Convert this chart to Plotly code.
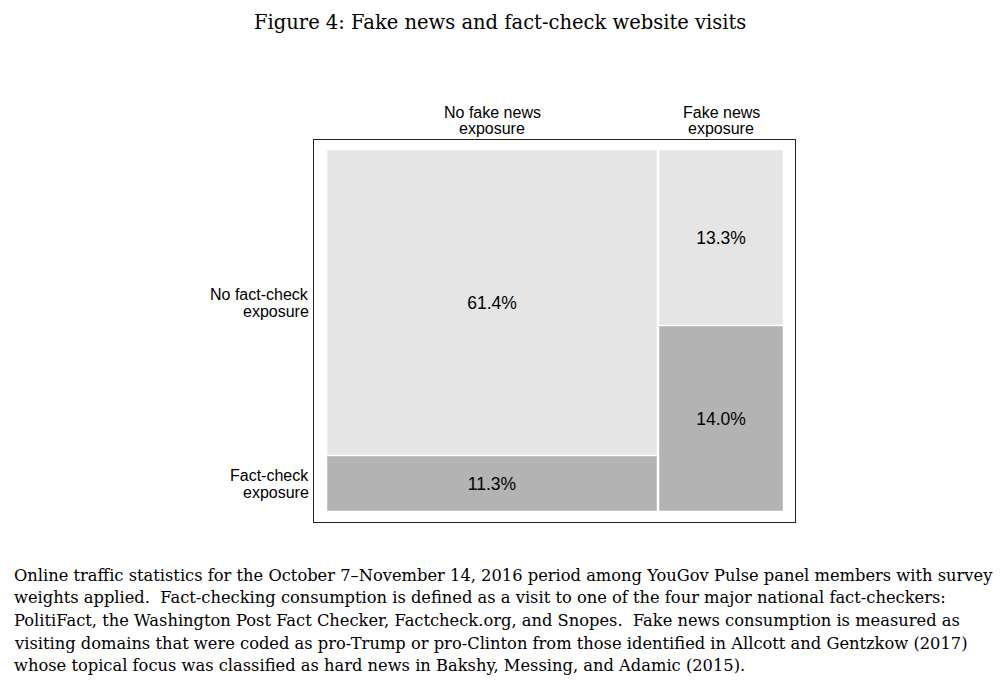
import plotly.graph_objects as go

# ---- data ----
col_labels = ["No fake news<br>exposure", "Fake news<br>exposure"]
row_labels = ["No fact-check<br>exposure", "Fact-check<br>exposure"]
# shares (%) per column: [no fact-check, fact-check]
no_fake = [61.4, 11.3]
fake = [13.3, 14.0]

title_text = "Figure 4: Fake news and fact-check website visits"
caption_lines = [
    "Online traffic statistics for the October 7–November 14, 2016 period among YouGov Pulse panel members with survey",
    "weights applied.  Fact-checking consumption is defined as a visit to one of the four major national fact-checkers:",
    "PolitiFact, the Washington Post Fact Checker, Factcheck.org, and Snopes.  Fake news consumption is measured as",
    "visiting domains that were coded as pro-Trump or pro-Clinton from those identified in Allcott and Gentzkow (2017)",
    "whose topical focus was classified as hard news in Bakshy, Messing, and Adamic (2015).",
]

# ---- styling / layout (page pixels) ----
W, H = 1006, 687
OFF = 8                       # body margin of the html page
PL, PR, PT, PB = 314, 795, 140, 522   # plot box in page pixels
TL, TR, TT, TB = 326, 784, 150, 512   # tile extent in page pixels
LIGHT, DARK = "#e5e5e5", "#b3b3b3"
GAPX = 3 / (TR - TL)
GAPY = 2 / (TB - TT)
SANS = "Liberation Sans"
SERIF = "DejaVu Serif"

def paper_x(px):
    return (px - PL) / (PR - PL)

def paper_y(py):
    return (PB - py) / (PB - PT)

cols = [no_fake, fake]
total = sum(sum(c) for c in cols)
fig = go.Figure()
x0 = 0.0
centers = []
left_rows = []
for ci, c in enumerate(cols):
    cw = sum(c) / total
    cx = x0 + cw / 2
    centers.append(cx)
    p_nofc = c[0] / sum(c)
    p_fc = c[1] / sum(c)
    for val, base, h, colr, edge in [
        (c[1], 0.0, p_fc, DARK, "#c4c4c4"),
        (c[0], p_fc, p_nofc, LIGHT, "#ececec"),
    ]:
        fig.add_trace(go.Bar(
            x=[cx], y=[h - GAPY], base=[base + GAPY / 2], width=[cw - GAPX],
            marker=dict(color=colr, line=dict(color=edge, width=1)),
            text=[f"{val:.1f}%"], textposition="inside", insidetextanchor="middle",
            textangle=0, textfont=dict(family=SANS, size=17.5, color="black"),
            hoverinfo="skip", showlegend=False))
    if ci == 0:
        left_rows = [p_fc + p_nofc / 2, p_fc / 2]
    x0 += cw

xr = [-(TL - PL) / (TR - TL), 1 + (PR - TR) / (TR - TL)]
yr = [-(PB - TB) / (TB - TT), 1 + (TT - PT) / (TB - TT)]

anns = []
# column headers (two lines each)
for cx, lab in zip(centers, col_labels):
    for line, py in zip(lab.split("<br>"), [112, 128]):
        anns.append(dict(x=cx, y=paper_y(py), xref="x", yref="paper", text=line,
                         showarrow=False, xanchor="center", yanchor="middle",
                         font=dict(family=SANS, size=16, color="black")))
# row labels (two lines each), right aligned
for ry, lab in zip(left_rows, row_labels):
    for line, dy in zip(lab.split("<br>"), [8.5, -8.5]):
        anns.append(dict(x=paper_x(311), y=ry, xref="paper", yref="y", yshift=dy,
                         text=line, showarrow=False, xanchor="right", yanchor="middle",
                         font=dict(family=SANS, size=16, color="black")))
# title
anns.append(dict(x=paper_x(500), xref="paper", y=paper_y(22), yref="paper",
                 text=title_text, showarrow=False, xanchor="center", yanchor="middle",
                 font=dict(family=SERIF, size=19.5, color="black")))
# caption
for line, py in zip(caption_lines, [575, 597, 620, 643, 665]):
    anns.append(dict(x=paper_x(12), xref="paper", y=paper_y(py), yref="paper",
                     text=line, showarrow=False, xanchor="left", yanchor="middle",
                     align="left", font=dict(family=SERIF, size=16.3, color="black")))

fig.update_layout(
    width=W, height=H,
    margin=dict(l=PL - OFF, r=W - (PR - OFF), t=PT - OFF, b=H - (PB - OFF)),
    paper_bgcolor="white", plot_bgcolor="white", barmode="overlay", bargap=0,
    annotations=anns,
)
axis_style = dict(showgrid=False, zeroline=False, showticklabels=False, ticks="",
                  showline=True, mirror=True, linecolor="#222", linewidth=1,
                  fixedrange=True)
fig.update_xaxes(range=xr, **axis_style)
fig.update_yaxes(range=yr, **axis_style)
fig.write_html("out.html", config={"displayModeBar": False})
